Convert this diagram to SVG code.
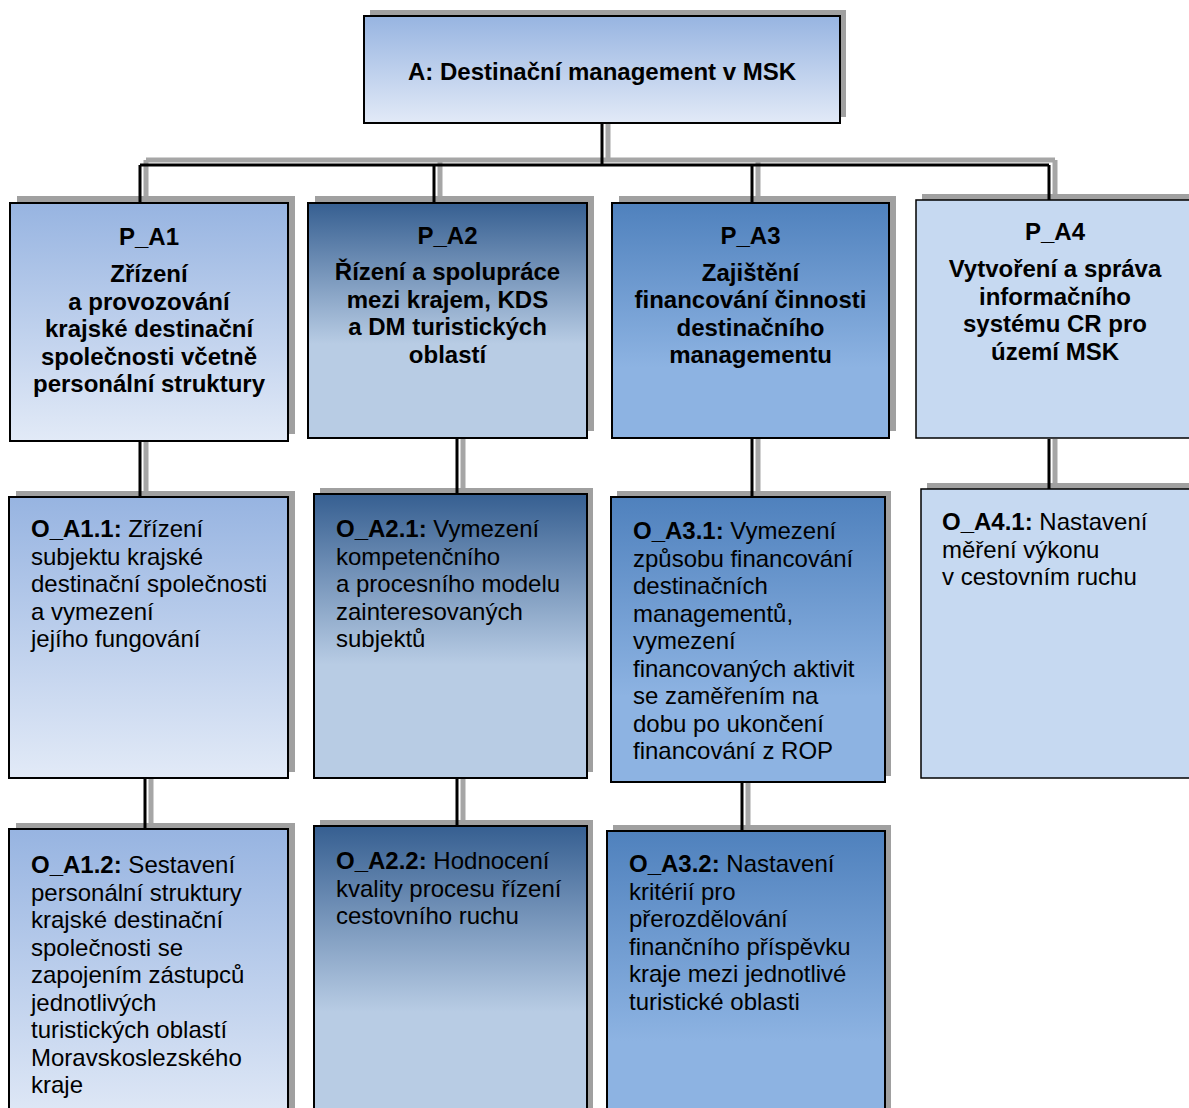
<svg xmlns="http://www.w3.org/2000/svg" width="1189" height="1108" viewBox="0 0 1189 1108">
<defs>
<linearGradient id="gLight" x1="0" y1="0" x2="0" y2="1"><stop offset="0" stop-color="#97b4e1"/><stop offset="1" stop-color="#e2eaf7"/></linearGradient>
<linearGradient id="gDark" x1="0" y1="0" x2="0" y2="1"><stop offset="0" stop-color="#365f91"/><stop offset="0.6" stop-color="#b8cce4"/><stop offset="1" stop-color="#b8cce4"/></linearGradient>
<linearGradient id="gMid" x1="0" y1="0" x2="0" y2="1"><stop offset="0" stop-color="#4f81bd"/><stop offset="0.7" stop-color="#8db3e2"/><stop offset="1" stop-color="#8db3e2"/></linearGradient>
</defs>
<style>
.sh{fill:#a0a0a0}
.box{stroke:#000;stroke-width:2}
.flat{fill:#c6d9f1;stroke:#000;stroke-width:1.5}
.light{fill:url(#gLight)}
.dark{fill:url(#gDark)}
.mid{fill:url(#gMid)}
text{font-family:"Liberation Sans",Arial,sans-serif;font-size:24px;fill:#000}
.b{font-weight:bold}
.c{text-anchor:middle;font-weight:bold}
.csh{stroke:#a6a6a6;stroke-width:5;fill:none}
.con{stroke:#000;stroke-width:3;fill:none}
</style>
<rect width="1189" height="1108" fill="#fff"/>

<g id="node-A">
<rect class="sh" x="370" y="10" width="476" height="107"/>
<rect class="box light" x="364" y="16" width="476" height="107"/>
<text class="c" x="602" y="80">A: Destinační management v MSK</text>
</g>

<g id="node-P_A1">
<rect class="sh" x="17" y="196" width="278" height="238"/>
<rect class="box light" x="10" y="203" width="278" height="238"/>
<text class="c" x="149" y="245">P_A1</text>
<text class="c" y="282"><tspan x="149">Zřízení</tspan><tspan x="149" dy="27.5">a provozování</tspan><tspan x="149" dy="27.5">krajské destinační</tspan><tspan x="149" dy="27.5">společnosti včetně</tspan><tspan x="149" dy="27.5">personální struktury</tspan></text>
</g>

<g id="node-P_A2">
<rect class="sh" x="315" y="196" width="279" height="235"/>
<rect class="box dark" x="308" y="203" width="279" height="235"/>
<text class="c" x="447.5" y="244">P_A2</text>
<text class="c" y="280"><tspan x="447.5">Řízení a spolupráce</tspan><tspan x="447.5" dy="27.5">mezi krajem, KDS</tspan><tspan x="447.5" dy="27.5">a DM turistických</tspan><tspan x="447.5" dy="27.5">oblastí</tspan></text>
</g>

<g id="node-P_A3">
<rect class="sh" x="619" y="196" width="277" height="235"/>
<rect class="box mid" x="612" y="203" width="277" height="235"/>
<text class="c" x="750.5" y="244">P_A3</text>
<text class="c" y="280.5"><tspan x="750.5">Zajištění</tspan><tspan x="750.5" dy="27.5">financování činnosti</tspan><tspan x="750.5" dy="27.5">destinačního</tspan><tspan x="750.5" dy="27.5">managementu</tspan></text>
</g>

<g id="node-P_A4">
<rect class="sh" x="922" y="194" width="280" height="238"/>
<rect class="flat" x="916" y="200" width="280" height="238"/>
<text class="c" x="1055" y="240">P_A4</text>
<text class="c" y="277"><tspan x="1055">Vytvoření a správa</tspan><tspan x="1055" dy="27.5">informačního</tspan><tspan x="1055" dy="27.5">systému CR pro</tspan><tspan x="1055" dy="27.5">území MSK</tspan></text>
</g>

<g id="node-O_A1.1">
<rect class="sh" x="16" y="491" width="279" height="281"/>
<rect class="box light" x="9" y="497" width="279" height="281"/>
<text y="537"><tspan x="31"><tspan class="b">O_A1.1:</tspan> Zřízení</tspan><tspan x="31" dy="27.5">subjektu krajské</tspan><tspan x="31" dy="27.5">destinační společnosti</tspan><tspan x="31" dy="27.5">a vymezení</tspan><tspan x="31" dy="27.5">jejího fungování</tspan></text>
</g>

<g id="node-O_A2.1">
<rect class="sh" x="320" y="488" width="273" height="284"/>
<rect class="box dark" x="314" y="494" width="273" height="284"/>
<text y="537"><tspan x="336"><tspan class="b">O_A2.1:</tspan> Vymezení</tspan><tspan x="336" dy="27.5">kompetenčního</tspan><tspan x="336" dy="27.5">a procesního modelu</tspan><tspan x="336" dy="27.5">zainteresovaných</tspan><tspan x="336" dy="27.5">subjektů</tspan></text>
</g>

<g id="node-O_A3.1">
<rect class="sh" x="617" y="491" width="274" height="285"/>
<rect class="box mid" x="611" y="497" width="274" height="285"/>
<text y="539"><tspan x="633"><tspan class="b">O_A3.1:</tspan> Vymezení</tspan><tspan x="633" dy="27.5">způsobu financování</tspan><tspan x="633" dy="27.5">destinačních</tspan><tspan x="633" dy="27.5">managementů,</tspan><tspan x="633" dy="27.5">vymezení</tspan><tspan x="633" dy="27.5">financovaných aktivit</tspan><tspan x="633" dy="27.5">se zaměřením na</tspan><tspan x="633" dy="27.5">dobu po ukončení</tspan><tspan x="633" dy="27.5">financování z ROP</tspan></text>
</g>

<g id="node-O_A4.1">
<rect class="sh" x="927" y="483" width="280" height="289"/>
<rect class="flat" x="921" y="489" width="280" height="289"/>
<text y="530"><tspan x="942"><tspan class="b">O_A4.1:</tspan> Nastavení</tspan><tspan x="942" dy="27.5">měření výkonu</tspan><tspan x="942" dy="27.5">v cestovním ruchu</tspan></text>
</g>

<g id="node-O_A1.2">
<rect class="sh" x="16" y="823" width="279" height="300"/>
<rect class="box light" x="9" y="829" width="279" height="300"/>
<text y="873"><tspan x="31"><tspan class="b">O_A1.2:</tspan> Sestavení</tspan><tspan x="31" dy="27.5">personální struktury</tspan><tspan x="31" dy="27.5">krajské destinační</tspan><tspan x="31" dy="27.5">společnosti se</tspan><tspan x="31" dy="27.5">zapojením zástupců</tspan><tspan x="31" dy="27.5">jednotlivých</tspan><tspan x="31" dy="27.5">turistických oblastí</tspan><tspan x="31" dy="27.5">Moravskoslezského</tspan><tspan x="31" dy="27.5">kraje</tspan></text>
</g>

<g id="node-O_A2.2">
<rect class="sh" x="320" y="820" width="273" height="310"/>
<rect class="box dark" x="314" y="826" width="273" height="310"/>
<text y="869"><tspan x="336"><tspan class="b">O_A2.2:</tspan> Hodnocení</tspan><tspan x="336" dy="27.5">kvality procesu řízení</tspan><tspan x="336" dy="27.5">cestovního ruchu</tspan></text>
</g>

<g id="node-O_A3.2">
<rect class="sh" x="613" y="825" width="278" height="300"/>
<rect class="box mid" x="607" y="831" width="278" height="300"/>
<text y="872"><tspan x="629"><tspan class="b">O_A3.2:</tspan> Nastavení</tspan><tspan x="629" dy="27.5">kritérií pro</tspan><tspan x="629" dy="27.5">přerozdělování</tspan><tspan x="629" dy="27.5">finančního příspěvku</tspan><tspan x="629" dy="27.5">kraje mezi jednotlivé</tspan><tspan x="629" dy="27.5">turistické oblasti</tspan></text>
</g>

<g id="connectors">
<path class="csh" d="M608,124 V160 M146,160 H1055 M146,160 V196 M440,160 V196 M758,160 V196 M1055,160 V194 M146,442 V491 M463,439 V488 M758,439 V491 M1055,439 V483 M151,779 V823 M463,779 V820 M748,783 V825"/>
<path class="con" d="M602,124 V165 M140,165 H1049 M140,165 V202 M434,165 V202 M752,165 V202 M1049,165 V200 M140,442 V496 M457,439 V493 M752,439 V496 M1049,439 V489 M145,779 V828 M457,779 V825 M742,783 V830"/>
</g>
</svg>
